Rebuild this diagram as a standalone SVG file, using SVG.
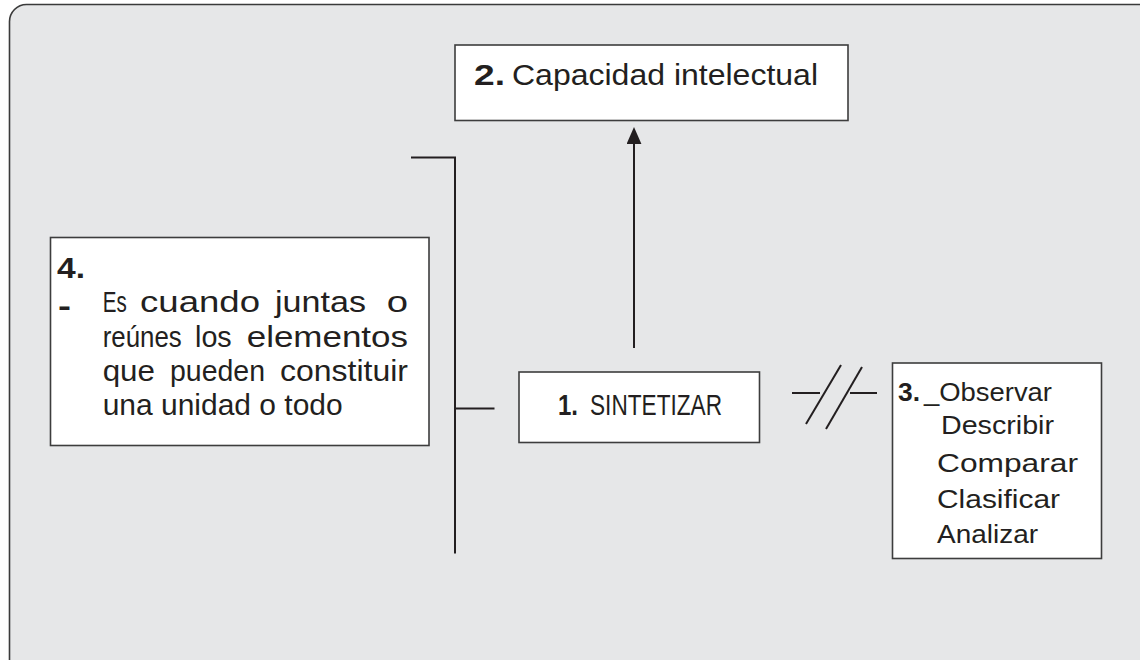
<svg xmlns="http://www.w3.org/2000/svg" width="1140" height="660" viewBox="0 0 1140 660">
<style>
.box{fill:#ffffff;stroke:#3d3d3d;stroke-width:1.6}
.ln{fill:none;stroke:#231f20;stroke-width:2}
.t{font-family:"Liberation Sans",Arial,sans-serif;fill:#231f20}
.b{font-weight:bold}
</style>
<defs>
<marker id="ah" markerUnits="userSpaceOnUse" markerWidth="17" markerHeight="15" viewBox="0 0 16 14" refX="1" refY="7" orient="auto">
<path d="M0,0 L16,7 L0,14 z" fill="#231f20"/>
</marker>
</defs>
<rect x="0" y="0" width="1140" height="660" fill="#ffffff"/>
<rect x="9.5" y="4.5" width="1160" height="680" rx="17" ry="17" fill="#e6e7e8" stroke="#3a3a3a" stroke-width="1.6"/>

<g id="connectors">
<path class="ln" d="M411,157.5 H455 V553.5"/>
<path class="ln" d="M455,408.5 H494.5"/>
<line class="ln" x1="634" y1="348" x2="634" y2="143" marker-end="url(#ah)"/>
<line class="ln" x1="792" y1="393" x2="820" y2="393"/>
<line class="ln" x1="850" y1="393" x2="877" y2="393"/>
<line class="ln" x1="841" y1="365" x2="806" y2="424"/>
<line class="ln" x1="862" y1="367" x2="826" y2="429"/>
</g>

<g id="node2">
<rect class="box" x="455" y="45" width="393" height="75.5"/>
<text class="t" y="85" font-size="29"><tspan class="b" x="474" textLength="31" lengthAdjust="spacingAndGlyphs">2.</tspan> <tspan x="512" textLength="306" lengthAdjust="spacingAndGlyphs">Capacidad intelectual</tspan></text>
</g>

<g id="node4">
<rect class="box" x="50.5" y="237.5" width="378.5" height="208"/>
<text class="t b" x="57" y="277.5" font-size="30" textLength="28" lengthAdjust="spacingAndGlyphs">4.</text>
<text class="t b" x="58" y="316" font-size="30" textLength="13" lengthAdjust="spacingAndGlyphs">-</text>
<text class="t" y="311.5" font-size="30"><tspan x="102.7" textLength="24" lengthAdjust="spacingAndGlyphs">Es</tspan> <tspan x="140" textLength="120" lengthAdjust="spacingAndGlyphs">cuando</tspan> <tspan x="275" textLength="91" lengthAdjust="spacingAndGlyphs">juntas</tspan> <tspan x="386.7" textLength="21.3" lengthAdjust="spacingAndGlyphs">o</tspan></text>
<text class="t" y="346.5" font-size="30"><tspan x="102.7" textLength="79" lengthAdjust="spacingAndGlyphs">reúnes</tspan> <tspan x="195" textLength="36.7" lengthAdjust="spacingAndGlyphs">los</tspan> <tspan x="246.7" textLength="161.3" lengthAdjust="spacingAndGlyphs">elementos</tspan></text>
<text class="t" y="380.5" font-size="30"><tspan x="102.7" textLength="52.3" lengthAdjust="spacingAndGlyphs">que</tspan> <tspan x="170" textLength="95" lengthAdjust="spacingAndGlyphs">pueden</tspan> <tspan x="280" textLength="128" lengthAdjust="spacingAndGlyphs">constituir</tspan></text>
<text class="t" x="102.7" y="415" font-size="30" textLength="240" lengthAdjust="spacingAndGlyphs">una unidad o todo</text>
</g>

<g id="node1">
<rect class="box" x="519" y="372" width="240.5" height="70.5"/>
<text class="t" y="415" font-size="29"><tspan class="b" x="558" textLength="20" lengthAdjust="spacingAndGlyphs">1.</tspan> <tspan x="590" textLength="132" lengthAdjust="spacingAndGlyphs">SINTETIZAR</tspan></text>
</g>

<g id="node3">
<rect class="box" x="892.5" y="363" width="209" height="195.5"/>
<text class="t" y="401" font-size="26"><tspan class="b" x="898" textLength="22" lengthAdjust="spacingAndGlyphs">3.</tspan><tspan x="924" textLength="128" lengthAdjust="spacingAndGlyphs">_Observar</tspan></text>
<text class="t" x="941" y="433.5" font-size="26" textLength="113" lengthAdjust="spacingAndGlyphs">Describir</text>
<text class="t" x="937" y="471.5" font-size="26" textLength="141" lengthAdjust="spacingAndGlyphs">Comparar</text>
<text class="t" x="937" y="508" font-size="26" textLength="123" lengthAdjust="spacingAndGlyphs">Clasificar</text>
<text class="t" x="937" y="543" font-size="26" textLength="101" lengthAdjust="spacingAndGlyphs">Analizar</text>
</g>
</svg>
